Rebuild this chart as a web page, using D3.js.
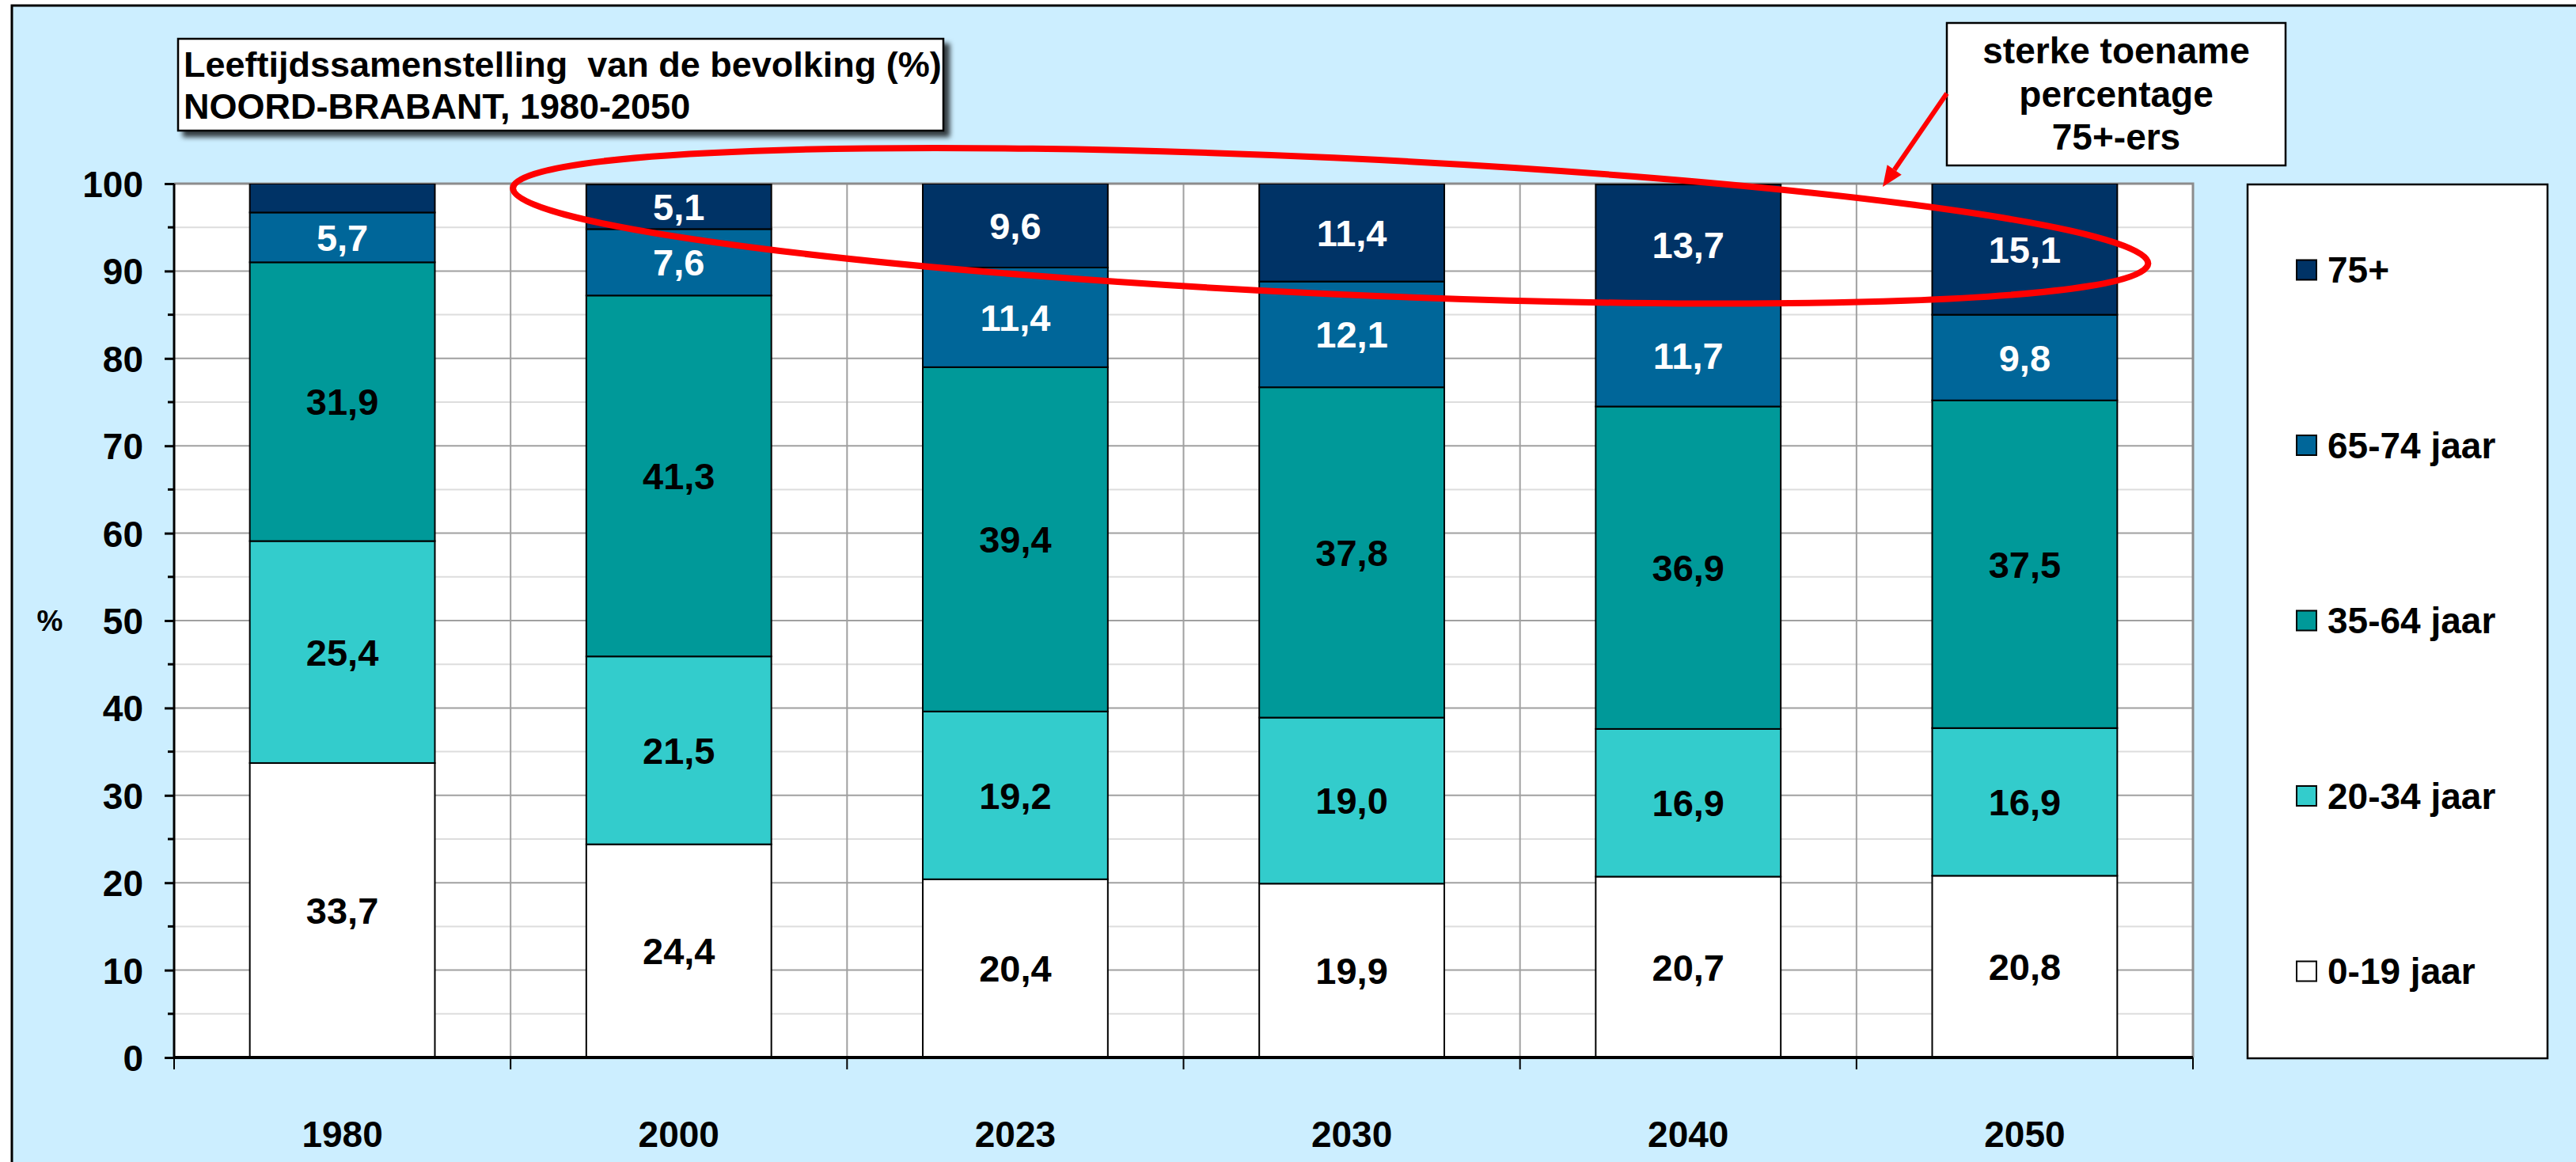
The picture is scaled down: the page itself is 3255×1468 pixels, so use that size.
<!DOCTYPE html>
<html>
<head>
<meta charset="utf-8">
<style>
  body { margin: 0; background: #fff; }
  svg text { font-family: "Liberation Sans", Arial, sans-serif; font-weight: bold; fill: #000; }
  .grid-major { stroke: #a0a0a0; stroke-width: 2; }
  .grid-minor { stroke: #dddddd; stroke-width: 2; }
</style>
<script src="https://d3js.org/d3.v7.min.js"></script>
</head>
<body>
<script>
// data
var years = ['1980', '2000', '2023', '2030', '2040', '2050'];
var groups = ['0-19 jaar', '20-34 jaar', '35-64 jaar', '65-74 jaar', '75+'];
var age0_19 = [33.7, 24.4, 20.4, 19.9, 20.7, 20.8];
var age20_34 = [25.4, 21.5, 19.2, 19.0, 16.9, 16.9];
var age35_64 = [31.9, 41.3, 39.4, 37.8, 36.9, 37.5];
var age65_74 = [5.7, 7.6, 11.4, 12.1, 11.7, 9.8];
var age75 = [3.3, 5.1, 9.6, 11.4, 13.7, 15.1];
var yTicks = [0, 10, 20, 30, 40, 50, 60, 70, 80, 90, 100];
var colors = ['#ffffff', '#33cccc', '#009999', '#006699', '#003366'];

(function() {
var W = 3255, H = 1468;
var pl = 220, pr = 2771, pt = 232, pb = 1336;

var svg = d3.select('body').append('svg')
  .attr('width', W).attr('height', H);

var defs = svg.append('defs');
defs.append('filter').attr('id', 'shadow')
  .attr('x', '-5%').attr('y', '-20%').attr('width', '115%').attr('height', '150%')
  .append('feDropShadow')
  .attr('dx', 7).attr('dy', 7).attr('stdDeviation', 3)
  .attr('flood-color', '#000').attr('flood-opacity', 0.75);
defs.append('clipPath').attr('id', 'plotclip')
  .append('rect').attr('x', pl - 5).attr('y', pt).attr('width', pr - pl + 10).attr('height', pb - pt + 5);

// outer frame
svg.append('rect')
  .attr('x', 15).attr('y', 7).attr('width', 3400).attr('height', 1600)
  .attr('fill', '#cceeff').attr('stroke', '#000').attr('stroke-width', 3);

var x = d3.scaleBand().domain(years).range([pl, pr])
  .paddingInner(0.45).paddingOuter(0.225);
var y = d3.scaleLinear().domain([0, 100]).range([pb, pt]);
var step = x.step();
var bounds = d3.range(years.length + 1).map(function(i) { return pl + i * step; });

// plot area
svg.append('rect')
  .attr('x', pl).attr('y', pt).attr('width', pr - pl).attr('height', pb - pt)
  .attr('fill', '#fff');

var minor = d3.range(5, 100, 10);
svg.append('g').selectAll('line').data(minor).enter().append('line')
  .attr('class', 'grid-minor')
  .attr('x1', pl).attr('x2', pr)
  .attr('y1', function(d) { return y(d); }).attr('y2', function(d) { return y(d); });
svg.append('g').selectAll('line').data(yTicks.slice(1, -1)).enter().append('line')
  .attr('class', 'grid-major')
  .attr('x1', pl).attr('x2', pr)
  .attr('y1', function(d) { return y(d); }).attr('y2', function(d) { return y(d); });
svg.append('g').selectAll('line').data(bounds.slice(1, -1)).enter().append('line')
  .attr('class', 'grid-major')
  .attr('x1', function(d) { return d; }).attr('x2', function(d) { return d; })
  .attr('y1', pt).attr('y2', pb);

// plot border top/right
svg.append('path')
  .attr('d', 'M' + pl + ',' + pt + 'H' + pr + 'V' + pb)
  .attr('fill', 'none').attr('stroke', '#8c8c8c').attr('stroke-width', 3);

// stacked bars
var series = [age0_19, age20_34, age35_64, age65_74, age75];
var rows = years.map(function(yr, i) {
  var r = { year: yr };
  groups.forEach(function(g, k) { r[g] = series[k][i]; });
  return r;
});
var stack = d3.stack().keys(groups)(rows);

var comma = d3.formatLocale({ decimal: ',', thousands: '.', grouping: [3], currency: ['', ''] }).format('.1f');

var layers = svg.append('g').attr('clip-path', 'url(#plotclip)')
  .selectAll('g').data(stack).enter().append('g')
  .attr('fill', function(d, k) { return colors[k]; });

layers.selectAll('rect').data(function(d) { return d; }).enter().append('rect')
  .attr('x', function(d) { return x(d.data.year); })
  .attr('width', x.bandwidth())
  .attr('y', function(d) { return y(Math.min(d[1], 100)); })
  .attr('height', function(d) { return y(d[0]) - y(Math.min(d[1], 100)); })
  .attr('stroke', '#000').attr('stroke-width', 2);

var labelSize = 47;
var labels = svg.append('g');
stack.forEach(function(layer, k) {
  layer.forEach(function(d) {
    var v = d[1] - d[0];
    if (v < 4) return;
    labels.append('text')
      .attr('x', x(d.data.year) + x.bandwidth() / 2)
      .attr('y', y((d[0] + Math.min(d[1], 100)) / 2) + labelSize * 0.36)
      .attr('text-anchor', 'middle')
      .style('font-size', labelSize + 'px')
      .style('fill', k >= 3 ? '#fff' : '#000')
      .text(comma(series[k][years.indexOf(d.data.year)]));
  });
});

// y axis
var yAxis = d3.axisLeft(y).tickValues(yTicks).tickSize(12).tickPadding(27)
  .tickFormat(d3.format('d'));
var ya = svg.append('g').attr('transform', 'translate(' + pl + ',0)').call(yAxis);
ya.select('.domain').attr('stroke', '#000').attr('stroke-width', 3)
  .attr('d', 'M0,' + pt + 'V' + pb);
ya.selectAll('.tick line').attr('stroke', '#000').attr('stroke-width', 3);
ya.selectAll('.tick text')
  .style('font-size', '46px').style('font-family', '"Liberation Sans", Arial, sans-serif')
  .style('font-weight', 'bold').attr('dy', '0.36em');
svg.append('g').selectAll('line').data(minor).enter().append('line')
  .attr('x1', pl - 8).attr('x2', pl)
  .attr('y1', function(d) { return y(d); }).attr('y2', function(d) { return y(d); })
  .attr('stroke', '#000').attr('stroke-width', 3);

// x axis
var xAxis = d3.axisBottom(x).tickSize(0).tickPadding(80);
var xa = svg.append('g').attr('transform', 'translate(0,' + pb + ')').call(xAxis);
xa.select('.domain').remove();
xa.selectAll('.tick text')
  .style('font-size', '46px').style('font-family', '"Liberation Sans", Arial, sans-serif')
  .style('font-weight', 'bold').attr('dy', '0.72em');
svg.append('line')
  .attr('x1', pl).attr('x2', pr).attr('y1', pb).attr('y2', pb)
  .attr('stroke', '#000').attr('stroke-width', 4);
svg.append('g').selectAll('line').data(bounds).enter().append('line')
  .attr('x1', function(d) { return d; }).attr('x2', function(d) { return d; })
  .attr('y1', pb).attr('y2', pb + 15)
  .attr('stroke', '#000').attr('stroke-width', 2);

svg.append('text').attr('x', 63).attr('y', y(50) + 13)
  .attr('text-anchor', 'middle').style('font-size', '37px').text('%');

// title box
svg.append('rect')
  .attr('x', 225).attr('y', 49).attr('width', 967).attr('height', 116)
  .attr('fill', '#fff').attr('stroke', '#000').attr('stroke-width', 2.5)
  .attr('filter', 'url(#shadow)');
svg.append('text').attr('x', 232).attr('y', 97).style('font-size', '45px')
  .style('white-space', 'pre').text('Leeftijdssamenstelling  van de bevolking (%)');
svg.append('text').attr('x', 232).attr('y', 150).style('font-size', '45px')
  .text('NOORD-BRABANT, 1980-2050');

// legend
var legX = 2840, legY = 233, legW = 379, legH = 1104;
svg.append('rect')
  .attr('x', legX).attr('y', legY).attr('width', legW).attr('height', legH)
  .attr('fill', '#fff').attr('stroke', '#000').attr('stroke-width', 2.5);
var legOrder = groups.slice().reverse();
var legItem = svg.append('g').selectAll('g').data(legOrder).enter().append('g')
  .attr('transform', function(d, i) { return 'translate(2902,' + (341 + i * 221.5) + ')'; });
legItem.append('rect')
  .attr('x', 0).attr('y', -12.5).attr('width', 25).attr('height', 25)
  .attr('fill', function(d) { return colors[groups.indexOf(d)]; })
  .attr('stroke', '#000').attr('stroke-width', 2);
legItem.append('text')
  .attr('x', 39).attr('y', 16).style('font-size', '46px')
  .text(function(d) { return d; });

// annotation: ellipse round the 75+ tops
var p1 = [bounds[1] + 3, y(99.5)];
var p2 = [x('2050') + x.bandwidth() + 39, y(90.85)];
var ecx = (p1[0] + p2[0]) / 2, ecy = (p1[1] + p2[1]) / 2;
var erx = Math.hypot(p2[0] - p1[0], p2[1] - p1[1]) / 2;
var eang = Math.atan2(p2[1] - p1[1], p2[0] - p1[0]) * 180 / Math.PI;
svg.append('ellipse')
  .attr('cx', ecx).attr('cy', ecy).attr('rx', erx).attr('ry', 86)
  .attr('transform', 'rotate(' + eang + ',' + ecx + ',' + ecy + ')')
  .attr('fill', 'none').attr('stroke', '#ff0000').attr('stroke-width', 8);

// note box with arrow
svg.append('rect')
  .attr('x', 2460).attr('y', 29).attr('width', 428).attr('height', 180)
  .attr('fill', '#fff').attr('stroke', '#000').attr('stroke-width', 2.5);
var note = ['sterke toename', 'percentage', '75+-ers'];
svg.append('g').selectAll('text').data(note).enter().append('text')
  .attr('x', 2674).attr('y', function(d, i) { return 80 + i * 54.5; })
  .attr('text-anchor', 'middle').style('font-size', '46px')
  .text(function(d) { return d; });

var a0 = [2460, 118], a1 = [2379, 236];
var len = Math.hypot(a1[0] - a0[0], a1[1] - a0[1]);
var ux = (a1[0] - a0[0]) / len, uy = (a1[1] - a0[1]) / len;
var headL = 26, headW = 11;
var base = [a1[0] - ux * headL, a1[1] - uy * headL];
svg.append('line')
  .attr('x1', a0[0]).attr('y1', a0[1]).attr('x2', base[0]).attr('y2', base[1])
  .attr('stroke', '#ff0000').attr('stroke-width', 6);
svg.append('path')
  .attr('d', 'M' + a1[0] + ',' + a1[1] +
    'L' + (base[0] - uy * headW) + ',' + (base[1] + ux * headW) +
    'L' + (base[0] + uy * headW) + ',' + (base[1] - ux * headW) + 'Z')
  .attr('fill', '#ff0000');
})();
</script>
</body>
</html>
